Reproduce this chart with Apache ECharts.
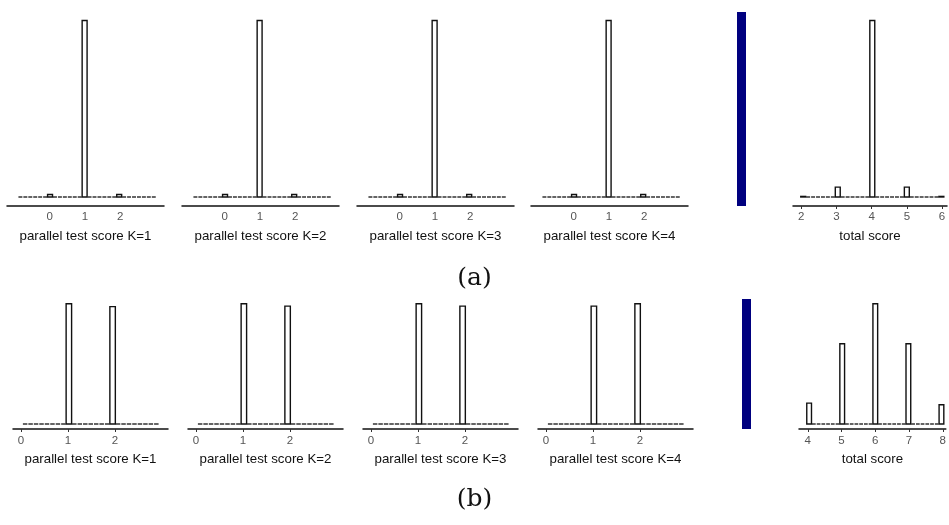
<!DOCTYPE html>
<html>
<head>
<meta charset="utf-8">
<script src="https://cdn.jsdelivr.net/npm/echarts/dist/echarts.min.js"></script>
<style>
html,body{margin:0;padding:0;background:#fff;}
#chart{width:949px;height:525px;}
</style>
</head>
<body>
<div id="chart"></div>
<script>
// ---------- DATA ----------
// (a) parallel test scores: 28 bins starting at -0.9, width 0.14
const topKBinStart = -0.9;
const topKBinWidth = 0.14;
const topK1 = [0,0,0,0,0,0,0.014,0,0,0,0,0,0,0.972,0,0,0,0,0,0,0.014,0,0,0,0,0,0,0];
const topK2 = [0,0,0,0,0,0,0.014,0,0,0,0,0,0,0.972,0,0,0,0,0,0,0.014,0,0,0,0,0,0,0];
const topK3 = [0,0,0,0,0,0,0.014,0,0,0,0,0,0,0.972,0,0,0,0,0,0,0.014,0,0,0,0,0,0,0];
const topK4 = [0,0,0,0,0,0,0.014,0,0,0,0,0,0,0.972,0,0,0,0,0,0,0.014,0,0,0,0,0,0,0];
// (a) total score: 29 bins starting at 1.99, width 0.14
const topTotalBinStart = 1.99;
const topTotalBinWidth = 0.14;
const topTotal = [0.003,0,0,0,0,0,0,0.05,0,0,0,0,0,0,0.894,0,0,0,0,0,0,0.05,0,0,0,0,0,0,0.003];
// (b) parallel test scores: 25 bins starting at 0.03, width 0.1164
const botKBinStart = 0.03;
const botKBinWidth = 0.1164;
const botK1 = [0,0,0,0,0,0,0,0,0.506,0,0,0,0,0,0,0,0.494,0,0,0,0,0,0,0,0];
const botK2 = [0,0,0,0,0,0,0,0,0.505,0,0,0,0,0,0,0,0.495,0,0,0,0,0,0,0,0];
const botK3 = [0,0,0,0,0,0,0,0,0.505,0,0,0,0,0,0,0,0.495,0,0,0,0,0,0,0,0];
const botK4 = [0,0,0,0,0,0,0,0,0.495,0,0,0,0,0,0,0,0.505,0,0,0,0,0,0,0,0];
// (b) total score: 29 bins starting at 3.97, width 0.14
const botTotalBinStart = 3.97;
const botTotalBinWidth = 0.14;
const botTotal = [0.065,0,0,0,0,0,0,0.25,0,0,0,0,0,0,0.375,0,0,0,0,0,0,0.25,0,0,0,0,0,0,0.06];
// tick labels
const kTicks = [0, 1, 2];
const topTotalTicks = [2, 3, 4, 5, 6];
const botTotalTicks = [4, 5, 6, 7, 8];
const kNames = ['parallel test score K=1','parallel test score K=2','parallel test score K=3','parallel test score K=4'];
const totalName = 'total score';
const panelLabels = ['(a)', '(b)'];

// ---------- BUILD ----------
function bins(counts, start, width) {
  return counts.map((v, i) => [start + i * width, start + (i + 1) * width, v]);
}

function renderHist(params, api) {
  const a = api.coord([api.value(0), 0]);
  const b = api.coord([api.value(1), api.value(2)]);
  const h = a[1] - b[1];
  if (api.value(2) === 0) {
    return {
      type: 'line',
      shape: { x1: a[0] + 0.5, y1: a[1], x2: b[0] - 0.5, y2: a[1] },
      style: { stroke: '#111', lineWidth: 1.3 }
    };
  }
  return {
    type: 'rect',
    shape: { x: a[0], y: b[1], width: b[0] - a[0], height: h },
    style: { fill: '#fff', stroke: '#111', lineWidth: 1.4 }
  };
}

const grids = [], xAxes = [], yAxes = [], series = [];

function addPanel(left, width, top, height, min, max, offset, ticks, showTick, name, data) {
  const idx = grids.length;
  grids.push({ left: left, width: width, top: top, height: height });
  xAxes.push({
    type: 'value', gridIndex: idx, min: min, max: max, offset: offset,
    splitLine: { show: false },
    axisLine: { show: true, onZero: false, lineStyle: { color: '#111', width: 1.5 } },
    axisTick: { show: showTick, customValues: ticks, length: 3, lineStyle: { color: '#333', width: 1 } },
    axisLabel: { customValues: ticks, color: '#555', fontSize: 11.5, fontFamily: 'Liberation Sans, Arial, sans-serif', margin: 5 },
    name: name, nameLocation: 'middle', nameGap: 24,
    nameTextStyle: { color: '#111', fontSize: 13.3, fontFamily: 'Liberation Sans, Arial, sans-serif' }
  });
  yAxes.push({ type: 'value', gridIndex: idx, show: false, min: 0, max: function (v) { return v.max * 1.031; } });
  series.push({
    type: 'custom', xAxisIndex: idx, yAxisIndex: idx, renderItem: renderHist, clip: false,
    encode: { x: [0, 1], y: 2 }, data: data
  });
}

const topKData = [topK1, topK2, topK3, topK4];
const botKData = [botK1, botK2, botK3, botK4];
const topLefts = [7, 182, 357, 531];
const botLefts = [13, 188, 363, 538];

for (let i = 0; i < 4; i++) {
  addPanel(topLefts[i], 157, 15, 182, -1.21, 3.24, 9, kTicks, false, kNames[i],
    bins(topKData[i], topKBinStart, topKBinWidth));
}
addPanel(793, 154, 15, 182, 1.77, 6.14, 9, topTotalTicks, true, totalName,
  bins(topTotal, topTotalBinStart, topTotalBinWidth));

for (let i = 0; i < 4; i++) {
  addPanel(botLefts[i], 155, 300, 124, -0.17, 3.13, 5, kTicks, true, kNames[i],
    bins(botKData[i], botKBinStart, botKBinWidth));
}
addPanel(799, 150, 300, 124, 3.74, 8.09, 5, botTotalTicks, true, totalName,
  bins(botTotal, botTotalBinStart, botTotalBinWidth));

// bottom row: slightly different label spacing
for (let i = 5; i < 10; i++) {
  xAxes[i].axisLabel.margin = 6;
  xAxes[i].nameGap = 24;
}

const chart = echarts.init(document.getElementById('chart'), null, { renderer: 'canvas' });
chart.setOption({
  animation: false,
  backgroundColor: '#fff',
  title: [
    { text: panelLabels[0], left: 'center', top: 261, textStyle: { fontFamily: 'DejaVu Serif, serif', fontWeight: 'normal', fontSize: 25, color: '#111' } },
    { text: panelLabels[1], left: 'center', top: 482, textStyle: { fontFamily: 'DejaVu Serif, serif', fontWeight: 'normal', fontSize: 25, color: '#111' } }
  ],
  graphic: [
    { type: 'rect', left: 737, top: 12, shape: { width: 9, height: 194 }, style: { fill: '#00007f' } },
    { type: 'rect', left: 742, top: 299, shape: { width: 9, height: 130 }, style: { fill: '#00007f' } }
  ],
  grid: grids,
  xAxis: xAxes,
  yAxis: yAxes,
  series: series
});
</script>
</body>
</html>
